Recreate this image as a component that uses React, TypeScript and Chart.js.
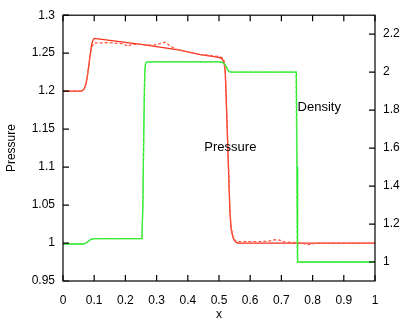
import React, { useEffect, useRef } from "react";
import { Chart, registerables } from "chart.js";

Chart.register(...registerables);

// ---- data ----
const pressureX = [0, 0.06, 0.068, 0.074, 0.08, 0.086, 0.092, 0.097, 0.1, 0.15, 0.2, 0.25, 0.3, 0.375, 0.44, 0.5, 0.51, 0.516, 0.52, 0.523, 0.527, 0.531, 0.535, 0.539, 0.545, 0.552, 0.56, 0.7, 0.85, 1];
const pressureY = [1.2, 1.2, 1.203, 1.21, 1.225, 1.245, 1.262, 1.268, 1.2695, 1.2669, 1.2643, 1.2617, 1.2587, 1.2539, 1.248, 1.2444, 1.2425, 1.238, 1.225, 1.19, 1.14, 1.09, 1.04, 1.018, 1.007, 1.002, 1.0, 1.0, 1.0, 1.0];

const pressureDashX = [0, 0.06, 0.068, 0.074, 0.08, 0.086, 0.092, 0.1, 0.15, 0.19, 0.2, 0.208, 0.218, 0.25, 0.29, 0.31, 0.327, 0.34, 0.36, 0.375, 0.44, 0.5, 0.51, 0.516, 0.52, 0.523, 0.527, 0.531, 0.535, 0.539, 0.545, 0.552, 0.56, 0.63, 0.66, 0.675, 0.685, 0.7, 0.71, 0.75, 0.77, 0.786, 0.8, 0.82, 1];
const pressureDashY = [1.2, 1.2, 1.203, 1.21, 1.225, 1.243, 1.258, 1.2635, 1.2638, 1.2625, 1.261, 1.2587, 1.2615, 1.2615, 1.2605, 1.2625, 1.2645, 1.2605, 1.2555, 1.254, 1.2485, 1.2455, 1.244, 1.24, 1.228, 1.195, 1.145, 1.095, 1.045, 1.02, 1.009, 1.003, 1.0018, 1.0018, 1.0025, 1.004, 1.0047, 1.003, 1.0012, 1.0005, 0.9995, 0.9978, 0.999, 1.0, 1.0];

const densityX = [0, 0.065, 0.075, 0.085, 0.095, 0.1, 0.25, 0.253, 0.256, 0.259, 0.262, 0.265, 0.27, 0.5, 0.51, 0.52, 0.527, 0.533, 0.54, 0.748, 0.75, 0.752, 1];
const densityY = [1.095, 1.095, 1.1, 1.115, 1.122, 1.123, 1.123, 1.125, 1.3, 1.7, 2.0, 2.05, 2.054, 2.054, 2.052, 2.04, 2.015, 2.003, 2.0, 2.0, 1.5, 1.0, 1.0];

const densityDashX = [0, 0.065, 0.075, 0.085, 0.095, 0.1, 0.25, 0.253, 0.256, 0.259, 0.262, 0.265, 0.27, 0.5, 0.51, 0.52, 0.527, 0.533, 0.54, 0.747, 0.749, 0.751, 1];
const densityDashY = [1.095, 1.095, 1.1, 1.115, 1.122, 1.123, 1.123, 1.125, 1.3, 1.7, 2.0, 2.05, 2.054, 2.054, 2.052, 2.04, 2.015, 2.003, 2.0, 2.0, 1.5, 1.0, 1.0];

const xTicks = [0, 0.1, 0.2, 0.3, 0.4, 0.5, 0.6, 0.7, 0.8, 0.9, 1];
const yTicks = [0.95, 1, 1.05, 1.1, 1.15, 1.2, 1.25, 1.3];
const y2Ticks = [1, 1.2, 1.4, 1.6, 1.8, 2, 2.2];

const pressureLabel = { text: "Pressure", x: 0.453, y: 1.1263 };
const densityLabel = { text: "Density", x: 0.752, y: 1.815 };

const FONT = "'Liberation Sans', Arial, Helvetica, sans-serif";

const zip = (xs: number[], ys: number[]) => xs.map((x, i) => ({ x, y: ys[i] }));
const fmt = (v: number) => String(Number(v.toFixed(2)));

const framePlugin = {
  id: "gnuframe",
  afterDatasetsDraw(chart: any) {
    const { ctx, chartArea: a, scales } = chart;
    const tl = 6;
    ctx.save();
    ctx.strokeStyle = "#000";
    ctx.lineWidth = 1.2;
    ctx.strokeRect(a.left, a.top, a.right - a.left, a.bottom - a.top);
    ctx.beginPath();
    xTicks.forEach((v) => {
      const px = scales.x.getPixelForValue(v);
      ctx.moveTo(px, a.bottom);
      ctx.lineTo(px, a.bottom - tl);
      ctx.moveTo(px, a.top);
      ctx.lineTo(px, a.top + tl);
    });
    yTicks.forEach((v) => {
      const py = scales.y.getPixelForValue(v);
      ctx.moveTo(a.left, py);
      ctx.lineTo(a.left + tl, py);
    });
    y2Ticks.forEach((v) => {
      const py = scales.y2.getPixelForValue(v);
      ctx.moveTo(a.right, py);
      ctx.lineTo(a.right - tl, py);
    });
    ctx.stroke();

    ctx.fillStyle = "#000";
    ctx.font = `13px ${FONT}`;
    ctx.textAlign = "left";
    ctx.textBaseline = "middle";
    ctx.fillText(
      pressureLabel.text,
      scales.x.getPixelForValue(pressureLabel.x),
      scales.y.getPixelForValue(pressureLabel.y)
    );
    ctx.fillText(
      densityLabel.text,
      scales.x.getPixelForValue(densityLabel.x),
      scales.y2.getPixelForValue(densityLabel.y)
    );
    ctx.restore();
  },
};

export default function App() {
  const ref = useRef<HTMLCanvasElement | null>(null);
  useEffect(() => {
    if (!ref.current) return;
    const red = "#f5301c";
    const redDash = "#ff5a44";
    const green = "#1ee61e";
    const greenDash = "#50f050";
    const tickFont = { family: FONT, size: 12 };
    const chart = new Chart(ref.current, {
      type: "line",
      data: {
        datasets: [
          {
            label: "Density (dashed)",
            data: zip(densityDashX, densityDashY),
            yAxisID: "y2",
            borderColor: greenDash,
            borderWidth: 1.3,
            borderDash: [3, 2],
            pointRadius: 0,
            tension: 0,
          },
          {
            label: "Density",
            data: zip(densityX, densityY),
            yAxisID: "y2",
            borderColor: green,
            borderWidth: 1.3,
            pointRadius: 0,
            tension: 0,
          },
          {
            label: "Pressure (dashed)",
            data: zip(pressureDashX, pressureDashY),
            yAxisID: "y",
            borderColor: redDash,
            borderWidth: 1.3,
            borderDash: [3, 2],
            pointRadius: 0,
            tension: 0,
          },
          {
            label: "Pressure",
            data: zip(pressureX, pressureY),
            yAxisID: "y",
            borderColor: red,
            borderWidth: 1.3,
            pointRadius: 0,
            tension: 0,
          },
        ],
      },
      options: {
        responsive: false,
        animation: false,
        events: [],
        layout: { padding: { top: 12, left: 0, right: 0, bottom: 0 } },
        plugins: { legend: { display: false }, tooltip: { enabled: false } },
        scales: {
          x: {
            type: "linear",
            min: 0,
            max: 1,
            grid: { display: false, drawTicks: false },
            border: { display: false },
            afterBuildTicks: (s: any) => {
              s.ticks = xTicks.map((v) => ({ value: v }));
            },
            afterFit: (s: any) => {
              s.height = 39;
            },
            ticks: { color: "#000", font: tickFont, padding: 12, maxRotation: 0, autoSkip: false, callback: (v: any) => fmt(Number(v)) },
            title: { display: true, text: "x", color: "#000", font: { family: FONT, size: 12, lineHeight: 1 }, padding: { top: 0, bottom: -1 } },
          },
          y: {
            type: "linear",
            position: "left",
            min: 0.95,
            max: 1.3,
            grid: { display: false, drawTicks: false },
            border: { display: false },
            afterBuildTicks: (s: any) => {
              s.ticks = yTicks.map((v) => ({ value: v }));
            },
            afterFit: (s: any) => {
              s.width = 63;
            },
            ticks: { color: "#000", font: tickFont, padding: 8, autoSkip: false, callback: (v: any) => fmt(Number(v)) },
            title: { display: true, text: "Pressure", color: "#000", font: { family: FONT, size: 12, lineHeight: 1 }, padding: { top: 6, bottom: 0 } },
          },
          y2: {
            type: "linear",
            position: "right",
            min: 0.9,
            max: 2.3,
            grid: { display: false, drawTicks: false },
            border: { display: false },
            afterBuildTicks: (s: any) => {
              s.ticks = y2Ticks.map((v) => ({ value: v }));
            },
            afterFit: (s: any) => {
              s.width = 29;
            },
            ticks: { color: "#000", font: tickFont, padding: 8, autoSkip: false, callback: (v: any) => fmt(Number(v)) },
          },
        },
      },
      plugins: [framePlugin],
    } as any);
    return () => chart.destroy();
  }, []);
  return (
    <div style={{ position: "absolute", left: 0, top: 0, width: 404, height: 320, background: "#fff" }}>
      <canvas ref={ref} width={404} height={320} style={{ display: "block", width: 404, height: 320 }} />
    </div>
  );
}
